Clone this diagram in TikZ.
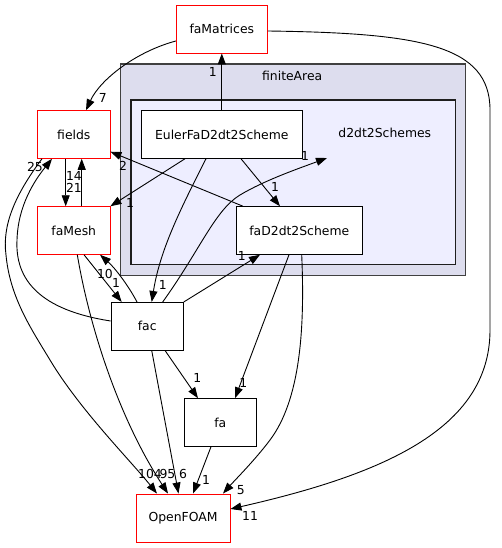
\documentclass[tikz,border=0pt]{standalone}
\usepackage{fontspec}
\setmainfont{DejaVu Sans}
\usetikzlibrary{arrows.meta}
\definecolor{outerfill}{RGB}{221,221,238}
\definecolor{innerfill}{RGB}{238,238,255}
\definecolor{outerline}{RGB}{64,64,64}
\definecolor{innerline}{RGB}{30,30,30}
\begin{document}
\begin{tikzpicture}[x=1pt,y=-1pt,
  every node/.style={font=\fontsize{12.4}{14}\selectfont},
  box/.style={draw=black, fill=white, line width=0.9pt, inner sep=0pt, minimum height=47.6pt},
  ext/.style={box, draw=red},
  edge/.style={-{Triangle[length=11pt,width=8pt]}, line width=0.9pt},
  lbl/.style={inner sep=0pt}]
\useasboundingbox (0,0) rectangle (502,548);

% clusters
\node[draw=outerline, fill=outerfill, line width=1.2pt, minimum width=345pt, minimum height=211.5pt, inner sep=0pt] (finiteArea) at (293.2,169.75) {};
\node[lbl] (finiteArealbl) at (292.2,76) {finiteArea};
\node[draw=innerline, fill=innerfill, line width=1.1pt, minimum width=324.7pt, minimum height=164.5pt, inner sep=0pt] (d2cl) at (293.35,182.25) {};
\node[lbl] (d2lbl) at (384.8,133.3) {d2dt2Schemes};

% nodes
\node[ext, minimum width=91pt] (famat) at (221.8,29.2) {faMatrices};
\node[ext, minimum width=72.3pt] (fields) at (73.8,134.5) {fields};
\node[ext, minimum width=72.3pt] (famesh) at (73.8,230.5) {faMesh};
\node[box, minimum width=160.3pt] (euler) at (221.8,134.5) {EulerFaD2dt2Scheme};
\node[box, minimum width=126.7pt] (fad2) at (299.3,230.5) {faD2dt2Scheme};
\node[box, minimum width=72.3pt] (fac) at (147.2,326.2) {fac};
\node[box, minimum width=71.3pt] (fa) at (220.3,422.5) {fa};
\node[ext, minimum width=94pt, minimum height=48pt] (openfoam) at (183,518) {OpenFOAM};
\coordinate (d2tip) at (327,158);

% edges
\draw[edge] (euler.north) -- (famat.south);
\draw[edge] ([yshift=-11.8pt]famat.west) .. controls (135,52) and (100,80) .. ([xshift=12.2pt]fields.north);
\draw[edge] ([yshift=-1.8pt]famat.east) .. controls (420,33) and (490,45) .. (490,110) -- (490,330) .. controls (490,430) and (380,475) .. ([yshift=9pt]openfoam.east);
\draw[edge] ([xshift=-8.1pt]fields.south) -- ([xshift=-8.1pt]famesh.north);
\draw[edge] ([xshift=7.9pt]famesh.north) -- ([xshift=7.9pt]fields.south);
\draw[edge] ([xshift=-31.8pt]fields.south) .. controls (15,195) and (2,225) .. (6,255) .. controls (10,298) and (32,330) .. (50,360) .. controls (80,410) and (130,460) .. ([xshift=-26pt]openfoam.north);
\draw[edge] ([yshift=5.2pt]fac.west) .. controls (40,310) and (15,280) .. (17,240) .. controls (18,205) and (35,180) .. ([xshift=-21.8pt]fields.south);
\draw[edge] ([xshift=3.5pt]famesh.south) .. controls (90,330) and (120,420) .. ([xshift=-15pt]openfoam.north);
\draw[edge] ([xshift=4.5pt]fac.south) -- ([xshift=-4.5pt]openfoam.north);
\draw[edge] ([xshift=-36.8pt]euler.south) -- (famesh.north east);
\draw[edge] ([xshift=19.2pt]euler.south) -- ([xshift=-19.3pt]fad2.north);
\draw[edge] ([xshift=-15.8pt]euler.south) .. controls (180,210) and (160,250) .. ([xshift=4.5pt]fac.north);
\draw[edge] ([xshift=-56.3pt]fad2.north) -- ([yshift=-17.2pt]fields.east);
\draw[edge] ([xshift=15.5pt]fac.north) .. controls (200,250) and (215,210) .. (240,195) .. controls (265,180) and (300,168) .. (d2tip);
\draw[edge] (fac.north east) -- ([xshift=-39.3pt]fad2.south);
\draw[edge] ([xshift=-10.2pt]fac.north) .. controls (128,285) and (115,268) .. ([xshift=26.2pt]famesh.south);
\draw[edge] ([xshift=10.2pt]famesh.south) -- ([xshift=-25.5pt]fac.north);
\draw[edge] ([xshift=17.8pt]fac.south) -- ([xshift=-22.3pt]fa.north);
\draw[edge] ([xshift=-10.3pt]fad2.south) -- ([xshift=14.7pt]fa.north);
\draw[edge] ([xshift=2.4pt]fad2.south) .. controls (305,330) and (300,400) .. (270,440) .. controls (255,460) and (235,480) .. ([xshift=40pt]openfoam.north);
\draw[edge] ([xshift=-9.3pt]fa.south) -- ([xshift=10pt]openfoam.north);

% labels
\node[lbl] (l1) at (212.7,71.7) {1};
\node[lbl] (l2) at (102.7,98) {7};
\node[lbl] (l3) at (250,516) {11};
\node[lbl] (l4) at (74,176) {14};
\node[lbl] (l5) at (74,187.5) {21};
\node[lbl] (l6) at (35,167) {25};
\node[lbl] (l7) at (150,474) {104};
\node[lbl] (l8) at (167.5,474) {95};
\node[lbl] (l9) at (183,474) {6};
\node[lbl] (l10) at (130,203.3) {1};
\node[lbl] (l11) at (275,186.7) {1};
\node[lbl] (l12) at (162.7,285) {1};
\node[lbl] (l13) at (123,166) {2};
\node[lbl] (l14) at (305,155.7) {1};
\node[lbl] (l15) at (241.7,255.7) {1};
\node[lbl] (l16) at (105,274) {10};
\node[lbl] (l17) at (116,283) {1};
\node[lbl] (l18) at (197.3,377.7) {1};
\node[lbl] (l19) at (243.3,383.3) {1};
\node[lbl] (l20) at (240.7,490) {5};
\node[lbl] (l21) at (206,480) {1};
\end{tikzpicture}
\end{document}
